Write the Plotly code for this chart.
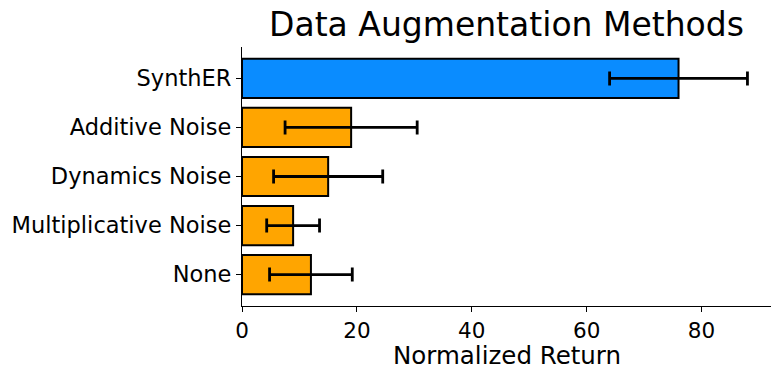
import plotly.graph_objects as go

# Augmentation methods, bottom-to-top order on the y axis
methods = ["None", "Multiplicative Noise", "Dynamics Noise", "Additive Noise", "SynthER"]
returns = [12.0, 8.9, 15.0, 19.0, 76.0]
errors = [7.2, 4.6, 9.5, 11.5, 12.0]
colors = ["#FFA500", "#FFA500", "#FFA500", "#FFA500", "#0A8CFF"]

W, H = 771, 370
FONT = "DejaVu Sans"
TOP, BOTTOM = 47, 306          # plot area edges in pixels
PLOT_H = BOTTOM - TOP

fig = go.Figure(
    go.Bar(
        y=list(range(len(methods))),
        x=returns,
        orientation="h",
        width=0.8,
        marker=dict(color=colors, line=dict(color="black", width=2)),
        error_x=dict(type="data", array=errors, symmetric=True,
                     color="black", thickness=2.8, width=7),
    )
)

fig.update_layout(
    width=W, height=H,
    margin=dict(l=241.5, r=0, t=TOP, b=H - BOTTOM, pad=0),
    paper_bgcolor="white", plot_bgcolor="white",
    font=dict(family=FONT, color="black"),
    showlegend=False,
    title=dict(text="Data Augmentation Methods", x=0.5, xref="paper",
               xanchor="center", y=1 - 24 / H, yref="container",
               yanchor="middle", font=dict(size=33, family=FONT, color="black")),
)

# x-axis title placed as an annotation below the tick labels
fig.add_annotation(
    text="Normalized Return", xref="paper", yref="paper",
    x=0.5, y=-(355.5 - BOTTOM) / PLOT_H, xanchor="center", yanchor="middle",
    showarrow=False, font=dict(size=24.5, family=FONT, color="black"),
)

fig.update_xaxes(
    range=[0, 92.1], tickvals=[0, 20, 40, 60, 80],
    showline=True, linecolor="black", linewidth=1.3, mirror=False,
    ticks="outside", ticklen=5, tickwidth=1.3, tickcolor="black",
    showgrid=False, zeroline=False,
    tickfont=dict(size=21.5, family=FONT, color="black"),
)

fig.update_yaxes(
    range=[-0.64, 4.64],
    tickmode="array", tickvals=list(range(len(methods))), ticktext=methods,
    showline=True, linecolor="black", linewidth=1.3, mirror=False,
    ticks="outside", ticklen=5, tickwidth=1.3, tickcolor="black",
    showgrid=False, zeroline=False,
    tickfont=dict(size=22.5, family=FONT, color="black"),
)

fig.write_html("out.html")
